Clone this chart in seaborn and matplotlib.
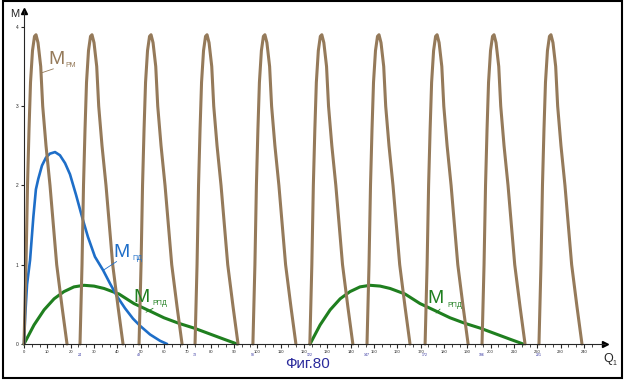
import numpy as np
import pandas as pd
import seaborn as sns
from matplotlib import pyplot as plt
from matplotlib.patches import Rectangle

sns.set_style("white")
plt.rcParams['font.family'] = ['Liberation Sans', 'DejaVu Sans']

# one pulse of M_PM (shape), and where each pulse starts
pulse_q = [0, 0.86, 1.5, 2.14, 2.79, 3.64, 4.5, 5.14, 6.0, 7.16, 8.01, 9.43, 11.14, 14.01, 16.29, 18.43]
pulse_m = [0, 1.0, 2.0, 2.7, 3.3, 3.7, 3.88, 3.9, 3.8, 3.5, 3.0, 2.5, 2.0, 1.0, 0.47, 0]
pulse_start = [0, 24.0, 49.3, 73.3, 98.1, 122.5, 147.0, 171.9, 196.3, 220.7]

# M_PD curve
pd_q = [0, 0.5, 1.3, 2.6, 4.0, 5.1, 6.1, 7.7, 9.4, 11.1, 13.3, 15.4, 17.6, 19.7, 22.3,
        24.9, 27.4, 30.4, 33.9, 36.9, 39.9, 43.3, 46.7, 49.7, 54.0, 58.3, 61.3]
pd_m = [0, 0.35, 0.75, 1.06, 1.6, 1.95, 2.08, 2.25, 2.35, 2.4, 2.42, 2.38, 2.28, 2.14, 1.88,
        1.6, 1.35, 1.1, 0.93, 0.76, 0.6, 0.45, 0.32, 0.23, 0.12, 0.04, 0]

# M_RPD curve (same hump twice)
rpd_q = [0, 4.3, 8.6, 12.9, 17.1, 21.4, 25.7, 30.0, 34.3, 40.7, 47.1, 53.6, 60.0, 66.4, 72.9, 79.3, 85.7, 91.3]
rpd_m = [0, 0.24, 0.43, 0.57, 0.66, 0.72, 0.74, 0.73, 0.7, 0.63, 0.51, 0.42, 0.33, 0.26, 0.2, 0.13, 0.06, 0]
rpd_start = [0, 122.6]

x_ticks = list(range(0, 250, 10))
y_ticks = [0, 1, 2, 3, 4]

brown = '#957a5a'
blue = '#1e6ec8'
green = '#1f7f1f'
navy = '#2b2b9c'

rows = []
for k, s in enumerate(pulse_start):
    for q, m in zip(pulse_q, pulse_m):
        rows.append({'pulse': k, 'Q': s + q, 'M': m})
df_rm = pd.DataFrame(rows)

rows = []
for k, s in enumerate(rpd_start):
    for q, m in zip(rpd_q, rpd_m):
        rows.append({'hump': k, 'Q': s + q, 'M': m})
df_rpd = pd.DataFrame(rows)

df_pd = pd.DataFrame({'Q': pd_q, 'M': pd_m})

fig = plt.figure(figsize=(6.26, 3.81), dpi=100)
ax = fig.add_axes([0, 0, 1, 1])
ax.set_xlim(-10.29, 258.0)
ax.set_ylim(-0.467, 4.338)

sns.lineplot(data=df_rpd, x='Q', y='M', units='hump', estimator=None, color=green,
             lw=2.2, ax=ax, legend=False)
sns.lineplot(data=df_pd, x='Q', y='M', color=blue, lw=1.9, ax=ax, legend=False)
sns.lineplot(data=df_rm, x='Q', y='M', units='pulse', estimator=None, color=brown,
             lw=2.2, ax=ax, legend=False)

# axes through the origin
for side in ['top', 'right']:
    ax.spines[side].set_visible(False)
ax.spines['left'].set_position(('data', 0))
ax.spines['bottom'].set_position(('data', 0))
ax.spines['left'].set_bounds(0, 4.2)
ax.spines['bottom'].set_bounds(0, 249)
ax.spines['left'].set_linewidth(0.8)
ax.spines['bottom'].set_linewidth(0.8)
ax.plot(249, 0, '>', color='k', ms=4, clip_on=False)
ax.plot(0, 4.2, '^', color='k', ms=4, clip_on=False)

ax.set_xticks(x_ticks)
ax.set_xticklabels([str(v) for v in x_ticks])
ax.set_xticks(np.arange(0, 246, 10 / 3), minor=True)
ax.set_yticks(y_ticks)
ax.set_yticklabels([str(v) for v in y_ticks])
ax.tick_params(axis='x', which='major', direction='out', length=3, width=0.8,
               labelsize=3, pad=1, bottom=True)
ax.tick_params(axis='x', which='minor', direction='out', length=2, width=0.6, bottom=True)
ax.tick_params(axis='y', direction='out', length=2, width=0.8, labelsize=3.5, pad=2, left=True)
ax.set_xlabel('')
ax.set_ylabel('')

# small blue marks at the pulse starts, just under the black tick labels
for s in pulse_start[1:]:
    ax.text(s, -0.11, str(int(round(s))), color=navy, fontsize=2.5, ha='center', va='top')

# labels
ax.text(-4.1, 4.16, 'M', fontsize=8, ha='center', va='center')
ax.text(248.2, -0.227, 'Q', fontsize=9, ha='left', va='baseline')
ax.text(252.3, -0.262, '1', fontsize=5, ha='left', va='baseline')

ax.text(10.3, 3.53, 'M', fontsize=14, color=brown, va='baseline')
ax.text(17.6, 3.49, 'РМ', fontsize=5, color=brown, va='baseline')
ax.plot([7.6, 12.6], [3.42, 3.47], color=brown, lw=0.6)

ax.text(38.1, 1.10, 'M', fontsize=14, color=blue, va='baseline')
ax.text(46.3, 1.06, 'ПД', fontsize=5, color=blue, va='baseline')
ax.plot([34.0, 39.7], [0.93, 1.04], color=blue, lw=0.6)

ax.text(46.7, 0.53, 'M', fontsize=14, color=green, va='baseline')
ax.text(54.9, 0.49, 'РПД', fontsize=5, color=green, va='baseline')
ax.plot([52.3, 55.3], [0.40, 0.45], color=green, lw=0.6)

ax.text(172.7, 0.517, 'M', fontsize=14, color=green, va='baseline')
ax.text(181.3, 0.467, 'РПД', fontsize=5, color=green, va='baseline')
ax.plot([176.6, 178.3], [0.39, 0.44], color=green, lw=0.6)

ax.text(121.3, -0.252, 'Фиг.80', fontsize=11, color=navy, ha='center', va='center')

# frame round the whole picture
fig.patches.append(Rectangle((3 / 626, 3 / 381), 619 / 626, 377 / 381, transform=fig.transFigure,
                             fill=False, edgecolor='k', lw=1.5))

plt.savefig('out.png', dpi=100)
